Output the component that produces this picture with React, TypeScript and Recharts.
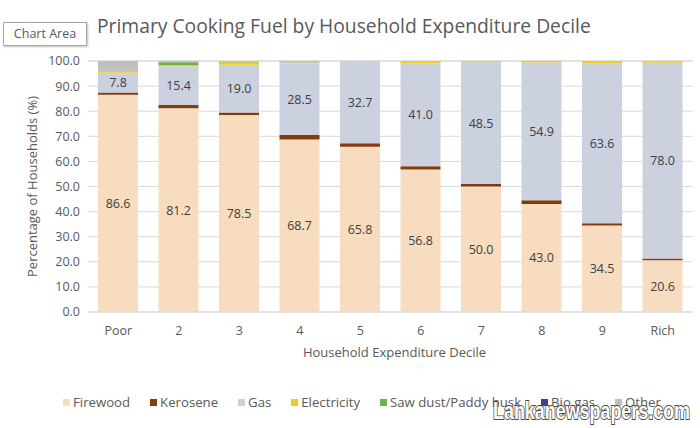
import React from 'react';
import { BarChart, Bar, XAxis, YAxis, CartesianGrid, LabelList } from 'recharts';

const categories = ['Poor', '2', '3', '4', '5', '6', '7', '8', '9', 'Rich'];
const firewood = [86.6, 81.2, 78.5, 68.7, 65.8, 56.8, 50.0, 43.0, 34.5, 20.6];
const kerosene = [0.9, 1.3, 1.0, 1.8, 1.4, 1.3, 1.0, 1.5, 0.9, 0.7];
const gas = [7.8, 15.4, 19.0, 28.5, 32.7, 41.0, 48.5, 54.9, 63.6, 78.0];
const electricity = [0.6, 0.4, 1.0, 0.3, 0.1, 0.6, 0.2, 0.2, 0.7, 0.6];
const sawDust = [0.2, 1.2, 0.2, 0.1, 0.0, 0.1, 0.0, 0.0, 0.1, 0.0];
const bioGas = [0, 0, 0, 0, 0, 0, 0, 0, 0, 0];
const other = [3.9, 0.5, 0.3, 0.6, 0.0, 0.2, 0.3, 0.4, 0.2, 0.1];
const yTicks = [0, 10, 20, 30, 40, 50, 60, 70, 80, 90, 100];

const seriesNames = ['Firewood', 'Kerosene', 'Gas', 'Electricity', 'Saw dust/Paddy husk', 'Bio gas', 'Other'];
const seriesKeys = ['firewood', 'kerosene', 'gas', 'electricity', 'sawDust', 'bioGas', 'other'];
const seriesColors = ['#f8dcc0', '#843c0c', '#ccd1e0', '#f0cc1c', '#70b24a', '#3f3f8f', '#bfbfbf'];
const labelled = [true, false, true, false, false, false, false];

const data = categories.map((name, i) => ({
  name,
  firewood: firewood[i],
  kerosene: kerosene[i],
  gas: gas[i],
  electricity: electricity[i],
  sawDust: sawDust[i],
  bioGas: bioGas[i],
  other: other[i],
}));

const FONT = '"Open Sans", "Noto Sans", sans-serif';
const TEXT = '#595959';

export default function App() {
  return (
    <div style={{ position: 'absolute', left: 0, top: 0, width: 700, height: 428, background: '#fff', fontFamily: FONT, overflow: 'hidden' }}>
      <BarChart width={700} height={428} data={data} margin={{ top: 61, right: 7, left: 0, bottom: 0 }} barSize={40}>
        <CartesianGrid vertical={false} stroke="#d9d9d9" />
        <XAxis
          dataKey="name"
          height={116}
          tickSize={0}
          tickMargin={14}
          axisLine={{ stroke: '#d9d9d9' }}
          tick={{ fill: TEXT, fontSize: 12.5, fontFamily: FONT }}
          label={{
            content: (p: any) => {
              const vb = p.viewBox;
              return (
                <text x={vb.x + vb.width / 2 + 4} y={vb.y + 45} textAnchor="middle" fill={TEXT} fontSize={13} fontFamily={FONT}>
                  Household Expenditure Decile
                </text>
              );
            },
          }}
        />
        <YAxis
          width={88}
          domain={[0, 100]}
          ticks={yTicks}
          interval={0}
          tickSize={0}
          tickMargin={8}
          axisLine={false}
          tickFormatter={(v: number) => v.toFixed(1)}
          tick={{ fill: TEXT, fontSize: 12.5, fontFamily: FONT }}
          label={{
            content: (p: any) => {
              const vb = p.viewBox;
              const cx = 32;
              const cy = vb.y + vb.height / 2;
              return (
                <text x={cx} y={cy} transform={`rotate(-90 ${cx} ${cy})`} textAnchor="middle" dominantBaseline="central" fill={TEXT} fontSize={13} fontFamily={FONT}>
                  Percentage of Households (%)
                </text>
              );
            },
          }}
        />
        {seriesKeys.map((k, i) => (
          <Bar key={k} dataKey={k} name={seriesNames[i]} stackId="a" fill={seriesColors[i]} isAnimationActive={false}>
            {labelled[i] ? (
              <LabelList
                dataKey={k}
                position="center"
                formatter={(v: any) => Number(v).toFixed(1)}
                fill="#404040"
                fontSize={12.5}
                fontFamily={FONT}
              />
            ) : null}
          </Bar>
        ))}
      </BarChart>

      <div style={{ position: 'absolute', left: 97, top: 11, fontSize: 19.3, color: TEXT, whiteSpace: 'nowrap', lineHeight: '30px' }}>
        Primary Cooking Fuel by Household Expenditure Decile
      </div>

      <div style={{ position: 'absolute', left: 3, top: 22, width: 82, height: 22, border: '1px solid #a6a6a6', background: '#fff', boxShadow: '1px 1px 2px rgba(0,0,0,0.25)', fontSize: 12.5, color: TEXT, lineHeight: '22px', textAlign: 'center', whiteSpace: 'nowrap' }}>
        Chart Area
      </div>

      <div style={{ position: 'absolute', left: 63, top: 393, display: 'flex', alignItems: 'center', gap: 20, whiteSpace: 'nowrap' }}>
        {seriesNames.map((n, i) => (
          <div key={n} style={{ display: 'flex', alignItems: 'center', fontSize: 13.2, color: TEXT, lineHeight: '18px' }}>
            <span style={{ display: 'inline-block', width: 7, height: 7, background: seriesColors[i], marginRight: 3 }} />
            {n}
          </div>
        ))}
      </div>

      <svg style={{ position: 'absolute', left: 0, top: 0 }} width={700} height={428}>
        <text
          x={493}
          y={419}
          textLength={197}
          lengthAdjust="spacingAndGlyphs"
          fontFamily='"Liberation Sans", Arial, sans-serif'
          fontWeight="bold"
          fontSize={23}
          fill="#ffffff"
          stroke="#4a4a4a"
          strokeWidth={1.8}
          paintOrder="stroke"
        >
          Lankanewspapers.com
        </text>
      </svg>
    </div>
  );
}
